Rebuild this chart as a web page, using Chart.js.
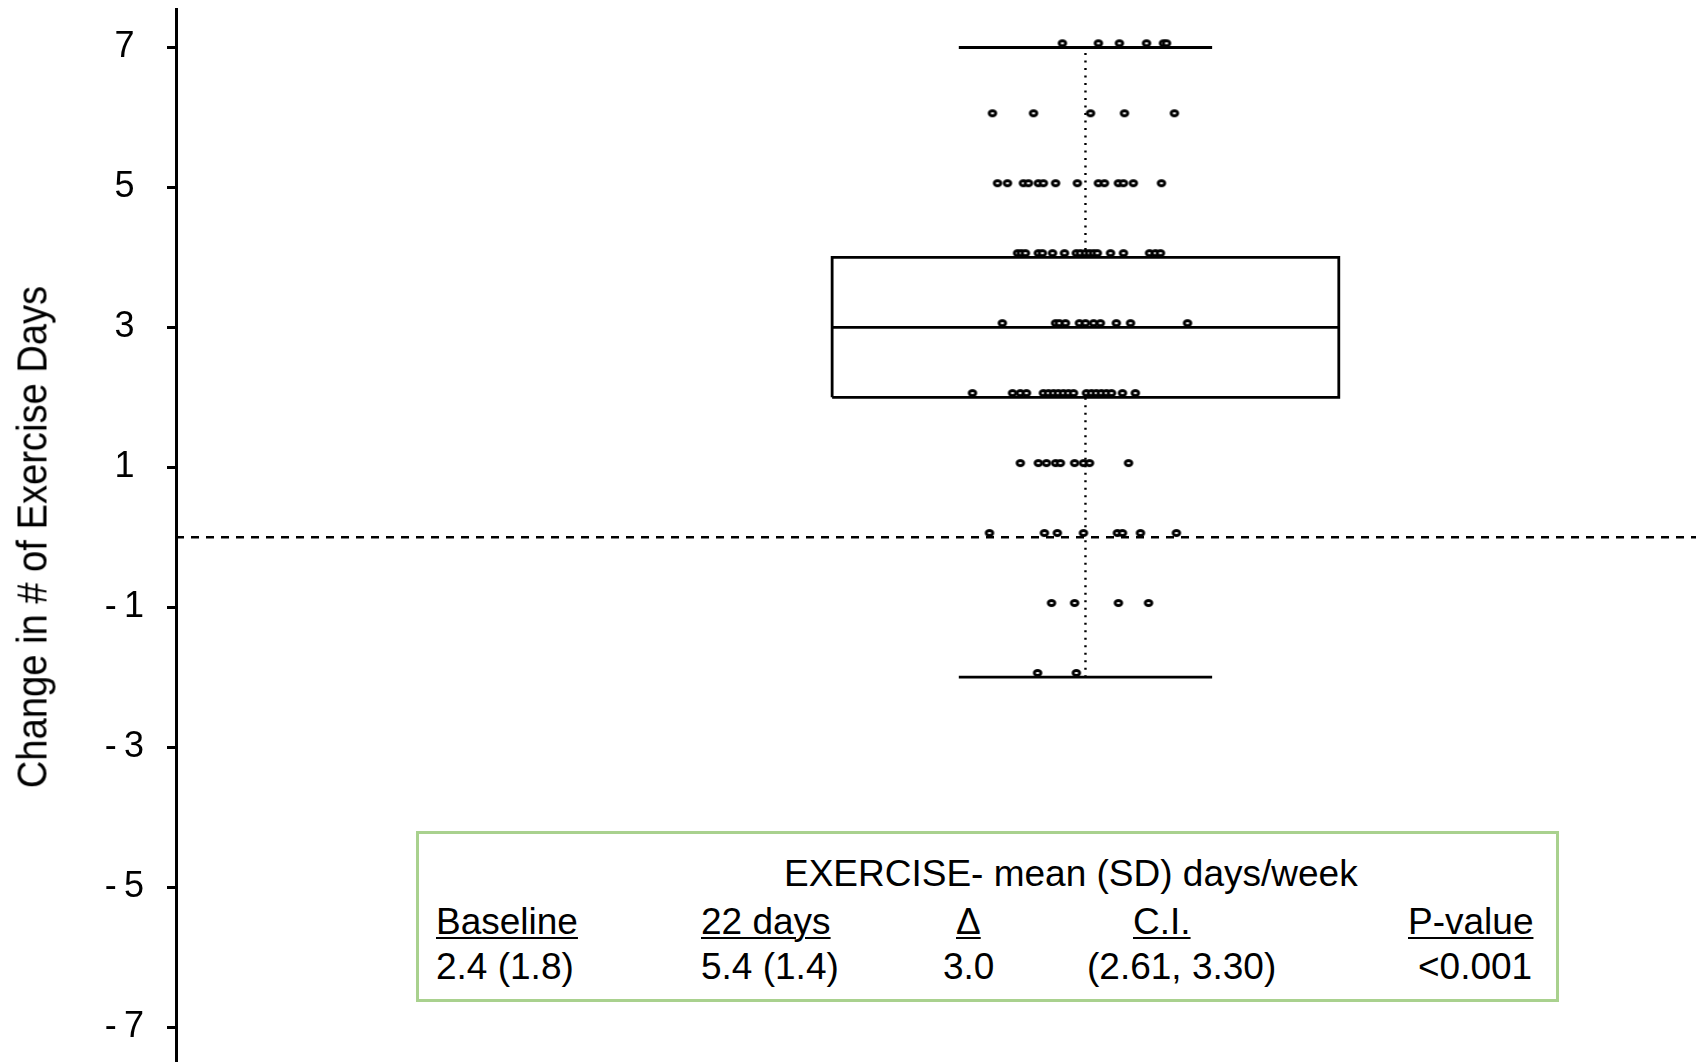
<!DOCTYPE html>
<html>
<head>
<meta charset="utf-8">
<script src="https://cdn.jsdelivr.net/npm/chart.js@4.4.1/dist/chart.umd.min.js"></script>
<style>
  html, body { margin: 0; padding: 0; background: #fff; }
  #wrap { position: relative; width: 1696px; height: 1062px; overflow: hidden; }
  #plot { position: absolute; left: 0; top: 0; width: 1696px; height: 1062px; }
  #ytitle {
    position: absolute; left: 32px; top: 537px; white-space: nowrap; line-height: 1;
    font-family: "Liberation Sans", Arial, sans-serif; font-size: 43px; color: #000;
    transform: translate(-50%, -50%) rotate(-90deg) scaleX(0.887);
  }
  #summary {
    position: absolute; left: 416px; top: 831px; width: 1143px; height: 171px;
    box-sizing: border-box; border: 3px solid #a9d18e; background: #fff;
    font-family: "Liberation Sans", Arial, sans-serif; font-size: 37px; color: #000;
  }
  #summary .t { position: absolute; white-space: nowrap; line-height: 1; }
  #summary .u { text-decoration: underline; text-decoration-thickness: 2px; text-underline-offset: 3px; }
</style>
</head>
<body>
<div id="wrap">
  <canvas id="plot" width="1696" height="1062"></canvas>
  <div id="ytitle">Change in # of Exercise Days</div>
  <div id="summary">
    <div class="t" style="left:365px; top:21px;">EXERCISE- mean (SD) days/week</div>
    <div class="t u" style="left:17px; top:69px;">Baseline</div>
    <div class="t u" style="left:282px; top:69px;">22 days</div>
    <div class="t u" style="left:537px; top:69px;">Δ</div>
    <div class="t u" style="left:714px; top:69px;">C.I.</div>
    <div class="t u" style="left:989px; top:69px;">P-value</div>
    <div class="t" style="left:17px; top:114px;">2.4 (1.8)</div>
    <div class="t" style="left:282px; top:114px;">5.4 (1.4)</div>
    <div class="t" style="left:524px; top:114px;">3.0</div>
    <div class="t" style="left:668px; top:114px;">(2.61, 3.30)</div>
    <div class="t" style="left:999px; top:114px;">&lt;0.001</div>
  </div>
</div>
<script>
// Y axis tick values and the response levels (change in exercise days)
const yTickValues = [-7, -5, -3, -1, 1, 3, 5, 7];
const responseLevels = [7, 6, 5, 4, 3, 2, 1, 0, -1, -2];

// Horizontal jitter of each participant around the group centre, per level
const jitterAt7  = [-0.091, 0.051, 0.134, 0.241, 0.308, 0.320];
const jitterAt6  = [-0.367, -0.205, 0.020, 0.154, 0.351];
const jitterAt5  = [-0.347, -0.308, -0.245, -0.225, -0.186, -0.166, -0.118, -0.032, 0.051, 0.075, 0.130, 0.150, 0.189, 0.300];
const jitterAt4  = [-0.268, -0.253, -0.237, -0.186, -0.170, -0.130, -0.083, -0.036, -0.020, 0.000, 0.016, 0.032, 0.047, 0.099, 0.150, 0.253, 0.276, 0.296];
const jitterAt3  = [-0.328, -0.118, -0.103, -0.079, -0.024, 0.000, 0.032, 0.059, 0.122, 0.178, 0.403];
const jitterAt2  = [-0.446, -0.288, -0.257, -0.233, -0.166, -0.146, -0.126, -0.107, -0.087, -0.067, -0.047, 0.004, 0.024, 0.043, 0.063, 0.083, 0.103, 0.146, 0.197];
const jitterAt1  = [-0.257, -0.186, -0.154, -0.118, -0.099, -0.043, -0.008, 0.016, 0.170];
const jitterAt0  = [-0.379, -0.162, -0.111, -0.008, 0.126, 0.146, 0.217, 0.359];
const jitterAtM1 = [-0.134, -0.043, 0.130, 0.249];
const jitterAtM2 = [-0.189, -0.036];

// Box-plot summary: Q1, median, Q3 and whisker ends
const boxQuartiles = [2, 3, 4];
const whiskerEnds = [-2, 7];
const referenceValue = 0;

// Layout of the single group on the hidden x scale
const xRange = [-3.59, 2.41];
const groupCentre = 0;
const boxHalfWidth = 1.0;
const capHalfWidth = 0.5;
const dotLift = 0.06;   // small vertical nudge so dots sit on top of the level

const jitterByLevel = [jitterAt7, jitterAt6, jitterAt5, jitterAt4, jitterAt3,
                       jitterAt2, jitterAt1, jitterAt0, jitterAtM1, jitterAtM2];

const dots = [];
responseLevels.forEach((lv, i) => {
  jitterByLevel[i].forEach(dx => dots.push({ x: groupCentre + dx, y: lv + dotLift }));
});

// Heavy open ring, slightly flattened, used for every participant
const marker = document.createElement('canvas');
marker.width = 14; marker.height = 12;
(function () {
  const c = marker.getContext('2d');
  c.beginPath();
  c.ellipse(7, 6, 3.3, 2.5, 0, 0, Math.PI * 2);
  c.fillStyle = '#fff'; c.fill();
  c.lineWidth = 2.9; c.strokeStyle = '#000'; c.stroke();
})();

const [q1, med, q3] = boxQuartiles;
const [wLo, wHi] = whiskerEnds;
const L = groupCentre - boxHalfWidth, R = groupCentre + boxHalfWidth;
const cL = groupCentre - capHalfWidth, cR = groupCentre + capHalfWidth;

function segment(points, extra) {
  return Object.assign({
    type: 'scatter', data: points, showLine: true, fill: false,
    borderColor: '#000', borderWidth: 2.8, pointRadius: 0, pointHoverRadius: 0,
    tension: 0, borderCapStyle: 'butt'
  }, extra || {});
}

const datasets = [
  {
    type: 'scatter', label: 'participants', data: dots,
    pointStyle: marker, pointRadius: 5, showLine: false
  },
  segment([{ x: xRange[0], y: referenceValue }, { x: xRange[1], y: referenceValue }],
          { borderWidth: 2.4, borderDash: [8, 7] }),
  segment([{ x: L, y: q1 }, { x: R, y: q1 }, { x: R, y: q3 }, { x: L, y: q3 }, { x: L, y: q1 }],
          { borderJoinStyle: 'miter' }),
  segment([{ x: L, y: med }, { x: R, y: med }]),
  segment([{ x: cL, y: wHi }, { x: cR, y: wHi }]),
  segment([{ x: cL, y: wLo }, { x: cR, y: wLo }]),
  segment([{ x: groupCentre, y: q3 }, { x: groupCentre, y: wHi }], { borderWidth: 2.4, borderDash: [2, 5.5] }),
  segment([{ x: groupCentre, y: wLo }, { x: groupCentre, y: q1 }], { borderWidth: 2.4, borderDash: [2, 5.5] })
];

new Chart(document.getElementById('plot'), {
  type: 'scatter',
  data: { datasets },
  options: {
    responsive: false,
    animation: false,
    devicePixelRatio: 1,
    layout: { autoPadding: false, padding: { top: 9, right: 0, bottom: 0, left: 0 } },
    plugins: { legend: { display: false }, tooltip: { enabled: false } },
    scales: {
      x: { type: 'linear', display: false, min: xRange[0], max: xRange[1] },
      y: {
        type: 'linear', min: -7.5, max: 7.55,
        afterBuildTicks: s => { s.ticks = yTickValues.map(v => ({ value: v })); },
        afterFit: s => { s.width = 176; s.paddingTop = 0; s.paddingBottom = 0; },
        ticks: {
          color: '#000', padding: 23, crossAlign: 'center',
          font: { family: '"Liberation Sans", Arial, sans-serif', size: 36 },
          callback: v => (v < 0 ? '-\u2009' + Math.abs(v) : String(v))
        },
        grid: { drawOnChartArea: false, drawTicks: true, tickLength: 9, color: '#000', lineWidth: 3 },
        border: { display: true, color: '#000', width: 3 },
        title: { display: false }
      }
    }
  }
});
</script>
</body>
</html>
